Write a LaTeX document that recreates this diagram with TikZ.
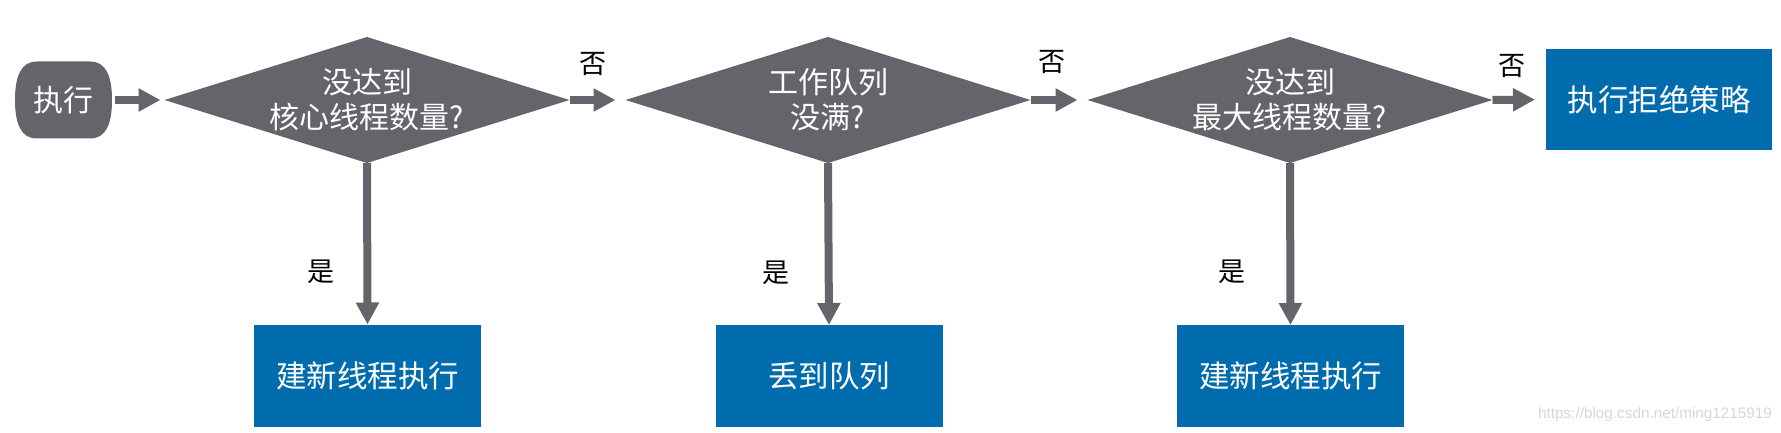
\documentclass[tikz,border=0pt]{standalone}
\usepackage{fontspec}
\newfontfamily\cjk{Noto Sans CJK SC}
\setsansfont{Liberation Sans}
\usetikzlibrary{shapes.geometric,arrows.meta}
\definecolor{fgray}{HTML}{63656A}
\definecolor{fblue}{HTML}{006CAE}
\definecolor{wmark}{HTML}{D6D6D6}
\tikzset{
  every node/.style={inner sep=0pt, outer sep=0pt},
  startbox/.style={minimum width=97pt, minimum height=77pt,
    text=white, font=\cjk\fontsize{30}{35}\selectfont},
  dia/.style={diamond, fill=fgray, minimum width=405pt, minimum height=126pt},
  diatext/.style={text=white, align=center, font=\cjk\fontsize{30}{35}\selectfont},
  bluebox/.style={fill=fblue, minimum width=227pt, minimum height=102pt,
    text=white, font=\cjk\fontsize{30.5}{35}\selectfont},
  arr/.style={draw=fgray, line width=8pt, -{Triangle[width=22pt,length=22pt]}},
  lbl/.style={text=black, font=\cjk\fontsize{27}{30}\selectfont},
}
\begin{document}
\begin{tikzpicture}[x=1pt, y=-1pt]
\useasboundingbox (0,0) rectangle (1781,433);
% start terminal: flat top and bottom, bulging sides
\fill[fgray] (37,61.5) -- (90,61.5)
  .. controls (106,61.5) and (112,76) .. (112,100)
  .. controls (112,124) and (106,138.5) .. (90,138.5)
  -- (37,138.5)
  .. controls (21,138.5) and (15,124) .. (15,100)
  .. controls (15,76) and (21,61.5) .. (37,61.5) -- cycle;
\node[startbox] (s) at (63,100) {执行};
\node[dia] (d1) at (367,100) {};
\node[diatext] (d1t) at (d1) {没达到\\核心线程数量?};
\node[dia] (d2) at (828,100) {};
\node[diatext] (d2t) at (d2) {工作队列\\没满?};
\node[dia] (d3) at (1290,100) {};
\node[diatext] (d3t) at (d3) {没达到\\最大线程数量?};
\node[bluebox] (b1) at (367.5,375.5) {建新线程执行};
\node[bluebox] (b2) at (829,376) {丢到队列};
\node[bluebox] (b3) at (1290.5,376) {建新线程执行};
\node[bluebox, minimum width=226pt, minimum height=101pt] (r) at (1659,99.5) {执行拒绝策略};
% connectors
\draw[arr, shorten <=3pt, shorten >=4pt] (s.east) -- (d1.west);
\draw[arr, shorten >=10pt] (d1.east) -- (d2.west);
\draw[arr, shorten >=10pt] (d2.east) -- (d3.west);
\draw[arr, shorten >=11pt] (d3.east) -- (r.west);
\draw[arr] (d1.south) -- (b1.north);
\draw[arr] (d2.south) -- (b2.north);
\draw[arr] (d3.south) -- (b3.north);
% labels
\node[lbl] (n1) at (593,64) {否};
\node[lbl] (n2) at (1052,62) {否};
\node[lbl] (n3) at (1512,66) {否};
\node[lbl] (y1) at (321,272) {是};
\node[lbl] (y2) at (776,273) {是};
\node[lbl] (y3) at (1232,272) {是};
\node[text=wmark, font=\sffamily\fontsize{15.3}{17}\selectfont, anchor=east] (wm) at (1772,415) {https://blog.csdn.net/ming1215919};
\end{tikzpicture}
\end{document}
